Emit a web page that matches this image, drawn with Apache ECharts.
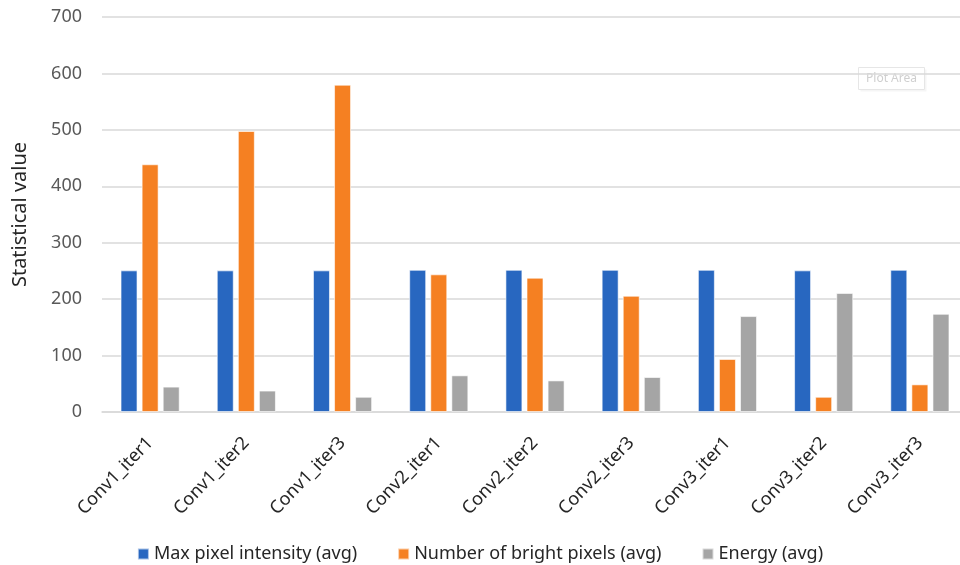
<!DOCTYPE html>
<html>
<head>
<meta charset="utf-8">
<script src="https://cdn.jsdelivr.net/npm/echarts@6/dist/echarts.min.js"></script>
<style>html,body{margin:0;padding:0;background:#fff}#c{width:960px;height:565px}</style>
</head>
<body>
<div id="c"></div>
<script>
var categories = ['Conv1_iter1','Conv1_iter2','Conv1_iter3','Conv2_iter1','Conv2_iter2','Conv2_iter3','Conv3_iter1','Conv3_iter2','Conv3_iter3'];
var maxIntensity = [251, 251, 251, 252, 252, 252, 252, 251, 252];
var brightPixels = [439, 498, 580, 244, 238, 206, 94, 27, 49];
var energy = [45, 38, 27, 65, 56, 62, 170, 211, 174];
var seriesNames = ['Max pixel intensity (avg)', 'Number of bright pixels (avg)', 'Energy (avg)'];
var yTicks = [0, 100, 200, 300, 400, 500, 600, 700];

var FONT = 'Noto Sans';
var chart = echarts.init(document.getElementById('c'));
function bar(name, data, color) {
  return {
    name: name, type: 'bar', data: data, barWidth: 17, barGap: '24%',
    itemStyle: { color: color, borderColor: 'rgba(255,255,255,0.6)', borderWidth: 1 }
  };
}
chart.setOption({
  animation: false,
  textStyle: { fontFamily: FONT },
  grid: { left: 102, width: 866, top: 17, bottom: 153, containLabel: false, outerBoundsMode: 'none' },
  legend: {
    top: 540, left: 'center', itemWidth: 11, itemHeight: 11, itemGap: 40,
    icon: 'rect',
    textStyle: { fontFamily: FONT, fontSize: 18, color: '#262626' },
    data: seriesNames
  },
  xAxis: {
    type: 'category', data: categories,
    axisLine: { show: true, lineStyle: { color: '#D9D9D9', width: 1.5 } },
    axisTick: { show: false },
    axisLabel: { rotate: 46, margin: 28, fontSize: 18, color: '#262626', fontFamily: FONT, interval: 0 }
  },
  yAxis: {
    type: 'value', min: yTicks[0], max: yTicks[yTicks.length - 1], interval: 100,
    name: 'Statistical value', nameLocation: 'middle', nameGap: 72, nameRotate: 90,
    nameTextStyle: { fontSize: 20, color: '#262626', fontFamily: FONT },
    axisLine: { show: false }, axisTick: { show: false },
    axisLabel: { margin: 20, fontSize: 18, color: '#595959', fontFamily: FONT },
    splitLine: { lineStyle: { color: '#D9D9D9', width: 1.5 } }
  },
  graphic: [{
    type: 'group', left: 858, top: 67,
    children: [
      { type: 'rect', shape: { x: 2, y: 2, width: 66, height: 22 }, style: { fill: 'rgba(0,0,0,0.04)' } },
      { type: 'rect', shape: { x: 0, y: 0, width: 66, height: 22 }, style: { fill: '#fff', stroke: '#E6E6E6', lineWidth: 1 } },
      { type: 'text', style: { x: 33, y: 11, text: 'Plot Area', align: 'center', verticalAlign: 'middle', fill: '#CFCFCF', font: '12px ' + FONT } }
    ]
  }],
  series: [
    bar(seriesNames[0], maxIntensity, '#2867C0'),
    bar(seriesNames[1], brightPixels, '#F58022'),
    bar(seriesNames[2], energy, '#A5A5A5')
  ]
});
</script>
</body>
</html>
